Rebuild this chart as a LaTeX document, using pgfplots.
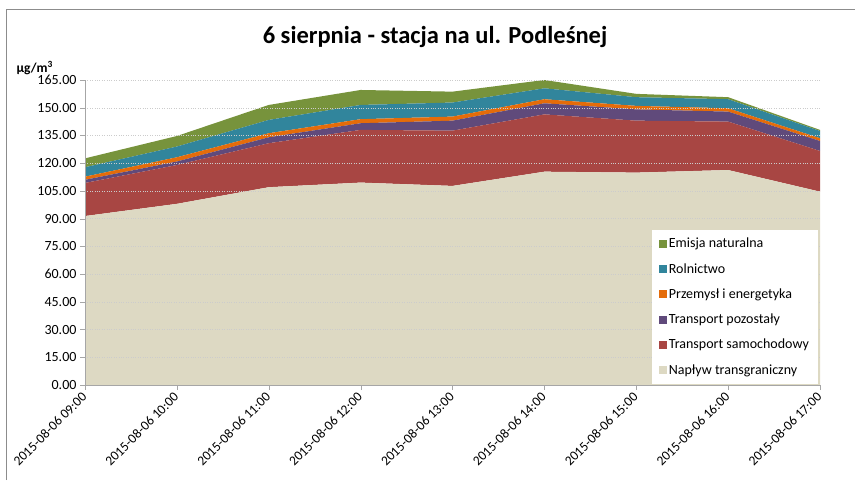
\documentclass[border=0pt]{standalone}
\usepackage{fontspec}
\setmainfont{Carlito}
\usepackage{pgfplots}
\usepackage{pgfplotstable}
\pgfplotsset{compat=1.18}

\definecolor{cNaplyw}{HTML}{DDD9C3}
\definecolor{cSamoch}{HTML}{A84643}
\definecolor{cPozost}{HTML}{604A7B}
\definecolor{cPrzem}{HTML}{E46C0A}
\definecolor{cRoln}{HTML}{31859C}
\definecolor{cEmisja}{HTML}{77933C}
\definecolor{frame}{HTML}{8C8C8C}

% godz. 09:00 ... 17:00 -> x = 0 ... 8
\pgfplotstableread{
x base  samoch pozost przem roln emisja
0 91.4  17.9   1.7    1.7   5.1  4.8
1 98.0  21.0   1.9    2.3   5.8  5.7
2 107.0 23.8   3.2    2.2   7.2  8.1
3 109.5 28.5   3.6    2.2   7.7  8.1
4 107.7 29.9   5.4    2.2   7.6  5.9
5 115.4 31.0   6.0    2.2   5.9  4.5
6 114.9 28.1   6.1    1.9   4.7  1.8
7 116.3 26.2   5.4    1.8   4.9  1.1
8 104.6 22.0   5.4    1.5   3.9  0.6
}\dane

\begin{document}
\begin{tikzpicture}
\useasboundingbox (0pt,0pt) rectangle (855pt,480pt);
\draw[frame, line width=1pt] (6pt,0pt) -- (6pt,470pt) -- (855pt,470pt);

\node[font=\fontsize{24.5}{28}\selectfont\bfseries] at (435pt,443pt) {6 sierpnia - stacja na ul. Podleśnej};
\node[font=\fontsize{13.5}{15}\selectfont\bfseries, anchor=west] at (13pt,412pt) {µg/m\textsuperscript{3}};

\begin{axis}[
    at={(85pt,95pt)}, anchor=south west,
    scale only axis,
    width=735pt, height=305pt,
    xmin=0, xmax=8,
    ymin=0, ymax=165,
    stack plots=y,
    area style,
    axis lines*=left,
    axis line style={draw=gray!70},
    tick style={draw=gray!70},
    tick align=outside,
    major tick length=5pt,
    xtick={0,...,8},
    xticklabels={2015-08-06 09:00,2015-08-06 10:00,2015-08-06 11:00,2015-08-06 12:00,2015-08-06 13:00,2015-08-06 14:00,2015-08-06 15:00,2015-08-06 16:00,2015-08-06 17:00},
    xticklabel style={rotate=45, anchor=east, font=\fontsize{13.5}{15}\selectfont, inner sep=1pt},
    xticklabel shift=4pt,
    ytick={0,15,...,165},
    yticklabel style={font=\fontsize{14}{16}\selectfont, /pgf/number format/fixed, /pgf/number format/fixed zerofill, /pgf/number format/precision=2},
    /pgf/number format/assume math mode=true,
    ymajorgrids,
    grid style={dotted, gray!40},
    reverse legend,
    legend style={at={(0.771,0.508)}, anchor=north west, draw=none, fill=white,
        font=\fontsize{14}{16}\selectfont, row sep=10pt, inner xsep=7pt, inner ysep=6pt},
    legend cell align=left,
    legend image code/.code={\fill[#1] (0pt,-4pt) rectangle (8pt,4pt);},
]
\addplot[fill=cNaplyw, draw=none] table[x=x, y=base] {\dane} \closedcycle;
\addlegendentry{Napływ transgraniczny}
\addplot[fill=cSamoch, draw=none] table[x=x, y=samoch] {\dane} \closedcycle;
\addlegendentry{Transport samochodowy}
\addplot[fill=cPozost, draw=none] table[x=x, y=pozost] {\dane} \closedcycle;
\addlegendentry{Transport pozostały}
\addplot[fill=cPrzem, draw=none] table[x=x, y=przem] {\dane} \closedcycle;
\addlegendentry{Przemysł i energetyka}
\addplot[fill=cRoln, draw=none] table[x=x, y=roln] {\dane} \closedcycle;
\addlegendentry{Rolnictwo}
\addplot[fill=cEmisja, draw=none] table[x=x, y=emisja] {\dane} \closedcycle;
\addlegendentry{Emisja naturalna}
\end{axis}
\end{tikzpicture}
\end{document}
